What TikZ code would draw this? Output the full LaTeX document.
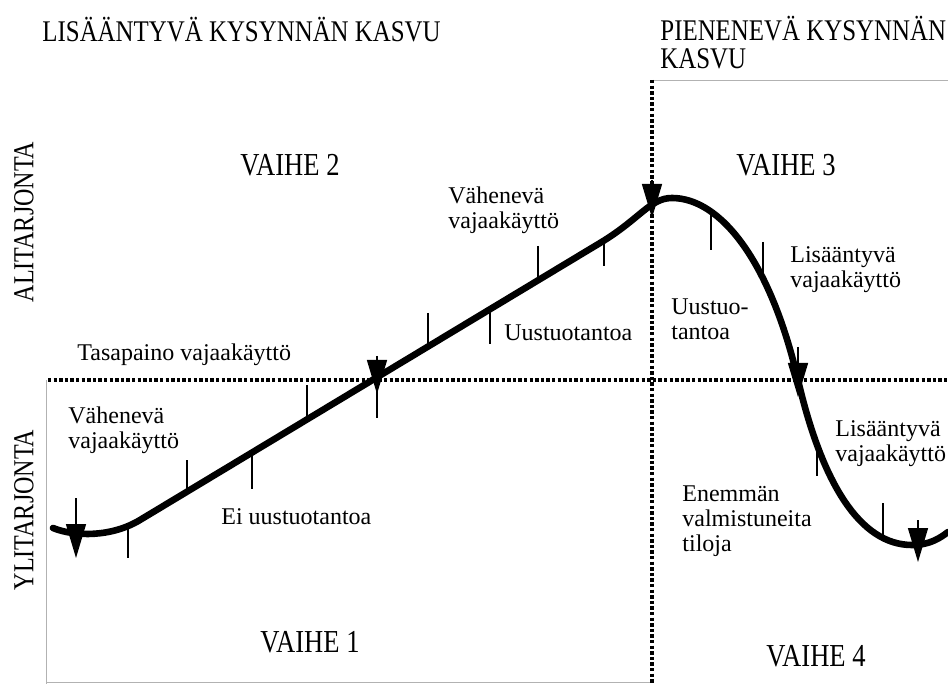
\documentclass[tikz,border=0pt]{standalone}
\usepackage{fontspec}
\setmainfont{Liberation Serif}
\newfontfamily\narrowfont[FakeStretch=0.83]{Liberation Serif}
\usetikzlibrary{arrows.meta}

\begin{document}
\begin{tikzpicture}[
    x=0.5pt, y=-0.5pt,
    txt/.style={font=\fontsize{12}{12.5}\selectfont, align=left, anchor=west, inner sep=0pt},
    head/.style={font=\narrowfont\fontsize{15}{14}\selectfont, align=left, inner sep=0pt},
    phase/.style={font=\narrowfont\fontsize{16}{16}\selectfont, inner sep=0pt},
    side/.style={font=\narrowfont\fontsize{14.5}{14}\selectfont, rotate=90, inner sep=0pt},
    divider/.style={line width=1.7pt, dash pattern=on 1.7pt off 1.1pt},
    frame/.style={line width=0.3pt, gray!60},
    curve/.style={line width=3.3pt, line cap=round},
    tick/.style={line width=0.7pt},
    marker/.style={line width=0.7pt, -{Triangle[width=10pt, length=17pt]}},
]
\useasboundingbox (0,0) rectangle (948,684);

% headings and phases
\node[head, anchor=west] (growup) at (42,30) {LISÄÄNTYVÄ KYSYNNÄN KASVU};
\node[head, anchor=north west] (growdown) at (660,16) {PIENENEVÄ KYSYNNÄN\\KASVU};
\node[side] (under) at (24,222) {ALITARJONTA};
\node[side] (over)  at (24,510) {YLITARJONTA};
\node[phase] (ph2) at (290,165) {VAIHE 2};
\node[phase] (ph3) at (786,165) {VAIHE 3};
\node[phase] (ph1) at (310,642) {VAIHE 1};
\node[phase] (ph4) at (816,656) {VAIHE 4};

% quadrant lines
\draw[frame] (46,380) -- (46,684);
\draw[frame] (46,682) -- (652,682);
\draw[frame] (652,80) -- (948,80);
\draw[divider] (48,380) -- (948,380);
\draw[divider] (652,80) -- (652,684);

% cycle curve
\draw[curve] (53,528) .. controls (75,537) and (112,537) .. (140,520)
  -- (600,243) .. controls (640,219) and (650,198) .. (672,198)
  .. controls (720,198) and (770,260) .. (798,380)
  .. controls (822,483) and (860,545) .. (912,545)
  .. controls (930,545) and (940,538) .. (948,532);

% ticks on the curve
\draw[tick] (128,525) -- (128,558);
\draw[tick] (187,460) -- (187,492);
\draw[tick] (252,453) -- (252,489);
\draw[tick] (307,385) -- (307,419);
\draw[tick] (428,313) -- (428,347);
\draw[tick] (490,309) -- (490,344);
\draw[tick] (538,246) -- (538,280);
\draw[tick] (604,240) -- (604,266);
\draw[tick] (711,215) -- (711,250);
\draw[tick] (763,242) -- (763,276);
\draw[tick] (817,440) -- (817,476);
\draw[tick] (883,503) -- (883,537);

% turning point markers
\draw[marker] (76,498) -- (76,558);
\draw[marker] (377,356) -- (377,394);
\draw[tick]   (377,385) -- (377,418);
\draw[marker] (652,180) -- (652,218);
\draw[marker] (798,347) -- (798,397);
\draw[marker] (918,520) -- (918,562);

% labels
\node[txt] (balance) at (77,355) {Tasapaino vajaakäyttö};
\node[txt] (dec1) at (68,430) {Vähenevä\\vajaakäyttö};
\node[txt] (nonew) at (221,517) {Ei uustuotantoa};
\node[txt] (dec2) at (448,210) {Vähenevä\\vajaakäyttö};
\node[txt] (new1) at (504,333) {Uustuotantoa};
\node[txt] (new2) at (671,319) {Uustuo-\\tantoa};
\node[txt] (inc1) at (790,270) {Lisääntyvä\\vajaakäyttö};
\node[txt] (inc2) at (835,444) {Lisääntyvä\\vajaakäyttö};
\node[txt] (done) at (682,521) {Enemmän\\valmistuneita\\tiloja};
\end{tikzpicture}
\end{document}
